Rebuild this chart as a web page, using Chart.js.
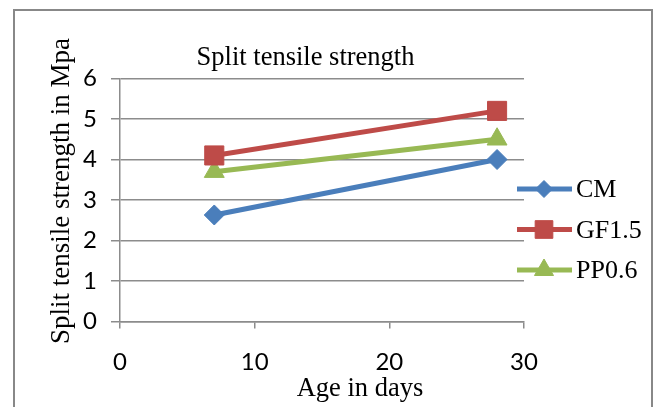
<!DOCTYPE html>
<html>
<head>
<meta charset="utf-8">
<script src="https://cdn.jsdelivr.net/npm/chart.js@4/dist/chart.umd.min.js"></script>
<style>
  html, body { margin: 0; padding: 0; background: #fff; }
  #wrap { width: 659px; height: 407px; position: relative; }
</style>
</head>
<body>
<div id="wrap"><canvas id="c" width="659" height="407"></canvas></div>
<script>
// ---- data ----
const ages = [7, 28];
const cm = [2.63, 4.0];
const gf = [4.1, 5.2];
const pp = [3.7, 4.5];
const seriesNames = ['CM', 'GF1.5', 'PP0.6'];
const chartTitle = 'Split tensile strength';
const xTitle = 'Age in days';
const yTitle = 'Split tensile strength in Mpa';

const colors = ['#4A7EBB', '#BE4B48', '#98B954'];
const styles = ['rectRot', 'rect', 'triangle'];
const radii = [10, 13.5, 11.5];
const legendRadii = [8.5, 12.5, 11];
const serif = '"Liberation Serif", "Times New Roman", serif';
const sans = 'Lato, "Liberation Sans", sans-serif';

function pts(ys) { return ages.map((a, i) => ({ x: a, y: ys[i] })); }
const allSeries = [cm, gf, pp];

const decor = {
  id: 'decor',
  beforeDraw(chart) {
    const ctx = chart.ctx;
    ctx.save();
    ctx.fillStyle = '#fff';
    ctx.fillRect(0, 0, chart.width, chart.height);
    ctx.strokeStyle = '#888888';
    ctx.lineWidth = 2;
    ctx.strokeRect(14, 10, 638, 420);
    ctx.restore();
  },
  afterDraw(chart) {
    const ctx = chart.ctx;
    ctx.save();
    ctx.fillStyle = '#000';
    ctx.font = '26.5px ' + serif;
    ctx.textAlign = 'center';
    ctx.textBaseline = 'alphabetic';
    ctx.fillText(chartTitle, 305.5, 65);
    ctx.fillText(xTitle, 360, 396);
    ctx.save();
    ctx.translate(69, 191);
    ctx.rotate(-Math.PI / 2);
    ctx.font = '27px ' + serif;
    ctx.fillText(yTitle, 0, 0);
    ctx.restore();
    chart.data.datasets.forEach((ds, i) => {
      const y = 189 + i * 40.5;
      ctx.strokeStyle = ds.borderColor;
      ctx.lineWidth = 5;
      ctx.beginPath();
      ctx.moveTo(517, y);
      ctx.lineTo(572, y);
      ctx.stroke();
      ctx.fillStyle = ds.borderColor;
      ctx.strokeStyle = ds.borderColor;
      ctx.lineWidth = 1;
      Chart.helpers.drawPoint(ctx, { pointStyle: ds.pointStyle, radius: legendRadii[i], rotation: 0, borderWidth: 1 }, 544, y);
      ctx.fillStyle = '#000';
      ctx.font = '26px ' + serif;
      ctx.textAlign = 'left';
      ctx.fillText(ds.label, 576, y + 8);
    });
    ctx.restore();
  }
};

function build() {
  new Chart(document.getElementById('c'), {
    type: 'line',
    data: {
      datasets: allSeries.map((s, i) => ({
        label: seriesNames[i],
        data: pts(s),
        borderColor: colors[i],
        backgroundColor: colors[i],
        borderWidth: 5,
        pointStyle: styles[i],
        pointRadius: radii[i],
        pointHoverRadius: radii[i],
        pointBorderWidth: 1,
        pointBackgroundColor: colors[i],
        pointBorderColor: colors[i],
        fill: false,
        tension: 0
      }))
    },
    options: {
      responsive: false,
      animation: false,
      events: [],
      layout: { padding: { left: 0, right: 135, top: 78.5, bottom: 0 } },
      plugins: { legend: { display: false }, title: { display: false }, tooltip: { enabled: false } },
      scales: {
        x: {
          type: 'linear',
          min: 0, max: 30,
          ticks: { stepSize: 10, color: '#000', font: { family: sans, size: 24 }, padding: 19, maxRotation: 0 },
          grid: { drawOnChartArea: false, drawTicks: true, tickLength: 7, color: '#8C8C8C', lineWidth: 1.5 },
          border: { display: true, color: '#8C8C8C', width: 1.5 },
          afterFit(s) { s.height = 85.5; }
        },
        y: {
          min: 0, max: 6,
          ticks: { stepSize: 1, color: '#000', font: { family: sans, size: 24 }, padding: 14 },
          grid: { color: '#8C8C8C', lineWidth: 1.5, tickLength: 9 },
          border: { display: true, color: '#8C8C8C', width: 1.5 },
          afterFit(s) { s.width = 120; }
        }
      }
    },
    plugins: [decor]
  });
}

const fontLoads = document.fonts && document.fonts.load
  ? Promise.all([
      document.fonts.load('24px Lato'),
      document.fonts.load('26px "Liberation Serif"')
    ]).catch(() => {})
  : Promise.resolve();
fontLoads.then(build, build);
</script>
</body>
</html>
